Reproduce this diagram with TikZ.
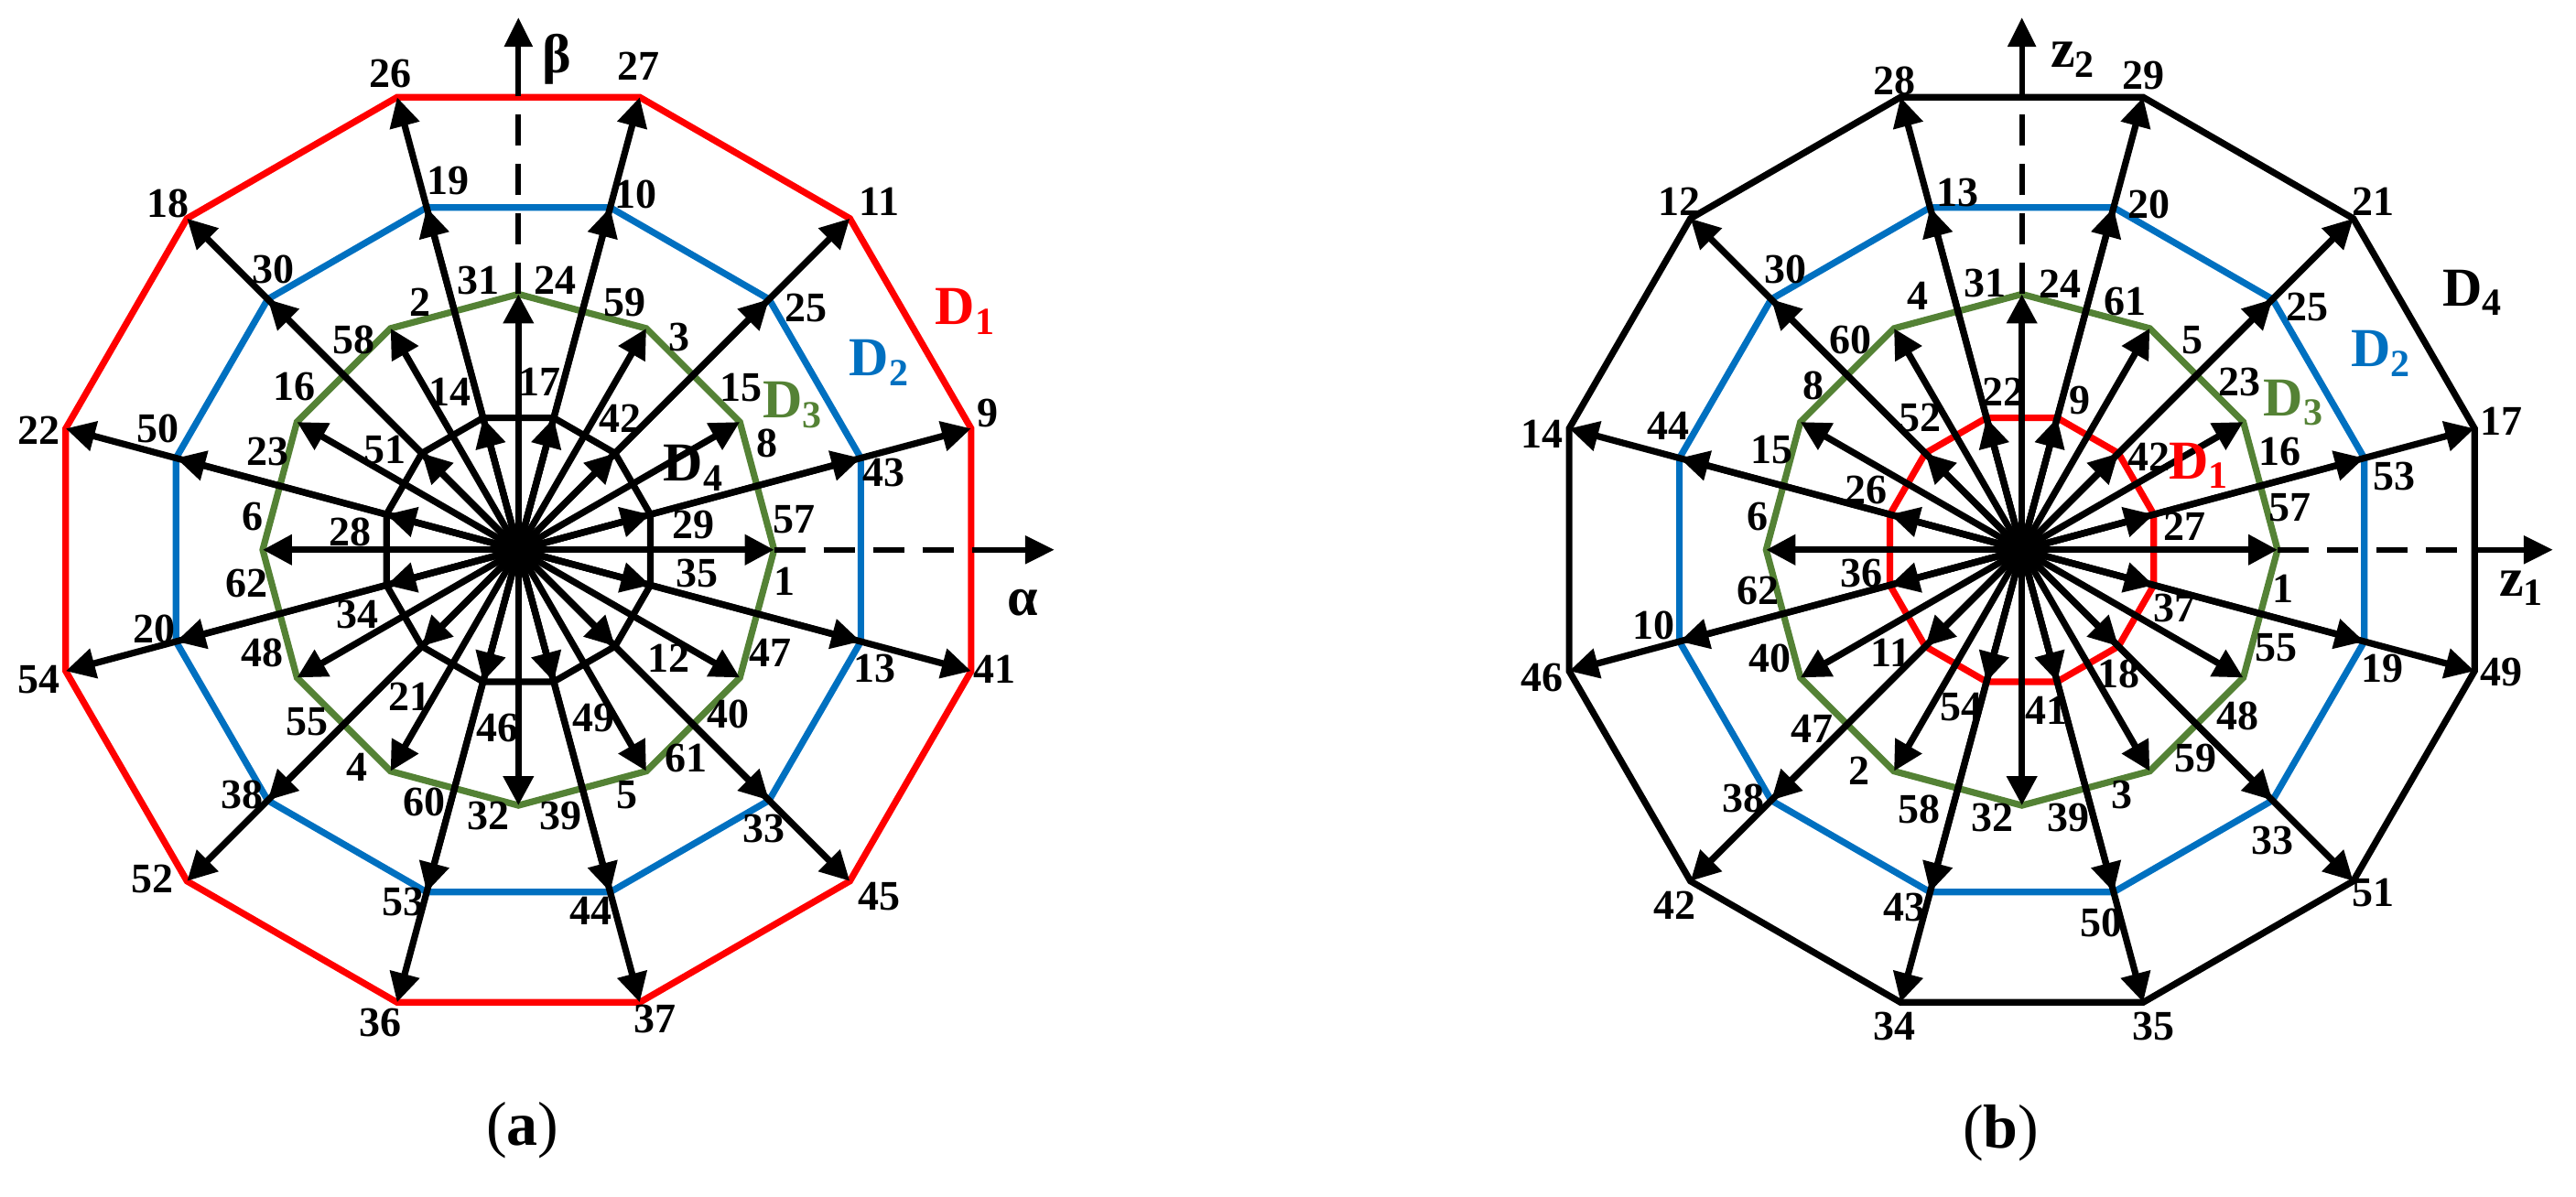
\documentclass[tikz,border=0pt]{standalone}
\usepackage{fontspec}
\setmainfont{Liberation Serif}
\usetikzlibrary{arrows.meta}
\definecolor{cred}{RGB}{255,0,0}
\definecolor{cblue}{RGB}{0,112,192}
\definecolor{cgreen}{RGB}{84,130,53}
\begin{document}
\begin{tikzpicture}[x=0.38265pt,y=-0.38265pt,
  vec/.style={line width=3.6pt,-{Triangle[length=16pt,width=16pt]}},
  poly/.style={line width=3.6pt,line join=miter},
  axd/.style={line width=3pt,dash pattern=on 17pt off 10pt},
  axa/.style={line width=3pt,-{Triangle[length=16pt,width=15pt]}},
  lab/.style={font=\bfseries\fontsize{23}{25}\selectfont,inner sep=0pt},
  dlab/.style={font=\bfseries\fontsize{30}{32}\selectfont,inner sep=0pt}]
\useasboundingbox (0,0) rectangle (3677,1708);
% ---------- (a)
\begin{scope}[shift={(740,785)}]
\coordinate (Oa) at (0,0);
\draw[poly,cred] (15:669) \foreach \a in {45,75,...,345}{--(\a:669)} -- cycle;
\draw[poly,cblue] (15:506) \foreach \a in {45,75,...,345}{--(\a:506)} -- cycle;
\draw[poly,cgreen] (0:365) \foreach \a in {30,60,...,330}{--(\a:365)} -- cycle;
\draw[poly,black] (15:195) \foreach \a in {45,75,...,345}{--(\a:195)} -- cycle;
\foreach \a in {15,45,...,345}{
  \draw[vec] (Oa) -- (\a:195); \draw[vec] (Oa) -- (\a:506); \draw[vec] (Oa) -- (\a:669);}
\foreach \a in {0,30,...,330}{\draw[vec] (Oa) -- (\a:365);}
\fill (Oa) circle (27);
\coordinate (ya1) at (0,-365); \coordinate (ya2) at (0,-680); \coordinate (ya3) at (0,-760);
\coordinate (xa1) at (365,0); \coordinate (xa2) at (680,0); \coordinate (xa3) at (765,0);
\draw[axd] (ya1) -- (ya2); \draw[axa] (ya2) -- (ya3);
\draw[axd] (xa1) -- (xa2); \draw[axa] (xa2) -- (xa3);
\end{scope}
\foreach \t/\x/\y in {26/557/105,27/912/95,18/240/290,11/1255/288,22/55/615,9/1410/590,54/55/970,41/1420/955,52/218/1255,45/1255/1280,36/543/1460,37/935/1455,
19/640/258,10/908/278,30/390/385,25/1150/440,50/225/612,43/1262/675,20/220/898,13/1248/955,38/345/1135,33/1090/1183,53/575/1288,44/843/1300,
24/792/400,59/892/432,3/970/482,15/1058/553,8/1095/633,57/1133/742,1/1120/830,47/1100/932,40/1040/1020,61/980/1083,5/895/1135,39/800/1165,32/697/1165,60/605/1145,4/510/1095,55/438/1030,48/375/932,62/352/833,6/360/737,23/382/645,16/420/552,58/505/485,2/600/432,31/683/400,
17/770/545,42/885/598,29/990/750,35/995/818,12/955/940,49/848/1025,46/710/1040,21/585/995,34/510/878,28/500/760,51/550/642,14/642/560}
  {\node[lab] (La\t) at (\x,\y) {\t};}
\node[dlab,text=cred] (LaD1) at (1378,445) {D\textsubscript{1}};
\node[dlab,text=cblue] (LaD2) at (1255,518) {D\textsubscript{2}};
\node[dlab,text=cgreen] (LaD3) at (1132,578) {D\textsubscript{3}};
\node[dlab] (LaD4) at (990,668) {D\textsubscript{4}};
\node[dlab] (Lbeta) at (795,85) {β};
\node[dlab] (Lalpha) at (1460,860) {α};
% ---------- (b)
\begin{scope}[shift={(2886,785)}]
\coordinate (Ob) at (0,0);
\draw[poly,black] (15:669) \foreach \a in {45,75,...,345}{--(\a:669)} -- cycle;
\draw[poly,cblue] (15:506) \foreach \a in {45,75,...,345}{--(\a:506)} -- cycle;
\draw[poly,cgreen] (0:365) \foreach \a in {30,60,...,330}{--(\a:365)} -- cycle;
\draw[poly,cred] (15:195) \foreach \a in {45,75,...,345}{--(\a:195)} -- cycle;
\foreach \a in {15,45,...,345}{
  \draw[vec] (Ob) -- (\a:195); \draw[vec] (Ob) -- (\a:506); \draw[vec] (Ob) -- (\a:669);}
\foreach \a in {0,30,...,330}{\draw[vec] (Ob) -- (\a:365);}
\fill (Ob) circle (27);
\coordinate (yb1) at (0,-365); \coordinate (yb2) at (0,-680); \coordinate (yb3) at (0,-760);
\coordinate (xb1) at (365,0); \coordinate (xb2) at (680,0); \coordinate (xb3) at (758,0);
\draw[axd] (yb1) -- (yb2); \draw[axa] (yb2) -- (yb3);
\draw[axd] (xb1) -- (xb2); \draw[axa] (xb2) -- (xb3);
\end{scope}
\begin{scope}[shift={(2109,0)}]
\foreach \t/\x/\y in {28/595/115,29/950/108,12/288/288,21/1278/288,14/92/620,17/1462/602,46/92/968,49/1462/960,42/282/1293,51/1278/1275,34/595/1465,35/965/1465,
13/685/275,20/958/292,30/440/385,25/1185/438,44/272/608,53/1308/680,10/252/893,19/1292/955,38/380/1140,33/1135/1200,43/610/1295,50/890/1318,
24/832/405,61/925/430,5/1020/485,23/1088/545,16/1145/645,57/1160/725,1/1150/840,55/1140/925,48/1085/1022,59/1025/1083,3/920/1135,39/843/1168,32/735/1168,58/630/1155,2/545/1100,47/478/1040,40/418/940,62/400/843,6/400/738,15/420/642,8/480/550,60/532/485,4/628/423,31/725/405,
22/750/560,9/860/572,42/958/652,27/1010/752,37/995/868,18/915/962,41/812/1015,54/690/1010,11/590/932,36/548/818,26/555/700,52/632/597}
  {\node[lab] (Lb\t) at (\x,\y) {\t};}
\node[dlab] (LbD4) at (1420,418) {D\textsubscript{4}};
\node[dlab,text=cblue] (LbD2) at (1290,505) {D\textsubscript{2}};
\node[dlab,text=cgreen] (LbD3) at (1165,575) {D\textsubscript{3}};
\node[dlab,text=cred] (LbD1) at (1030,665) {D\textsubscript{1}};
\node[dlab] (Lz2) at (850,85) {z\textsubscript{2}};
\node[dlab] (Lz1) at (1490,840) {z\textsubscript{1}};
\end{scope}
\node[font=\fontsize{34}{36}\selectfont,inner sep=0pt] (capa) at (746,1614) {(\textbf{a})};
\node[font=\fontsize{34}{36}\selectfont,inner sep=0pt] (capb) at (2856,1618) {(\textbf{b})};
\end{tikzpicture}
\end{document}
